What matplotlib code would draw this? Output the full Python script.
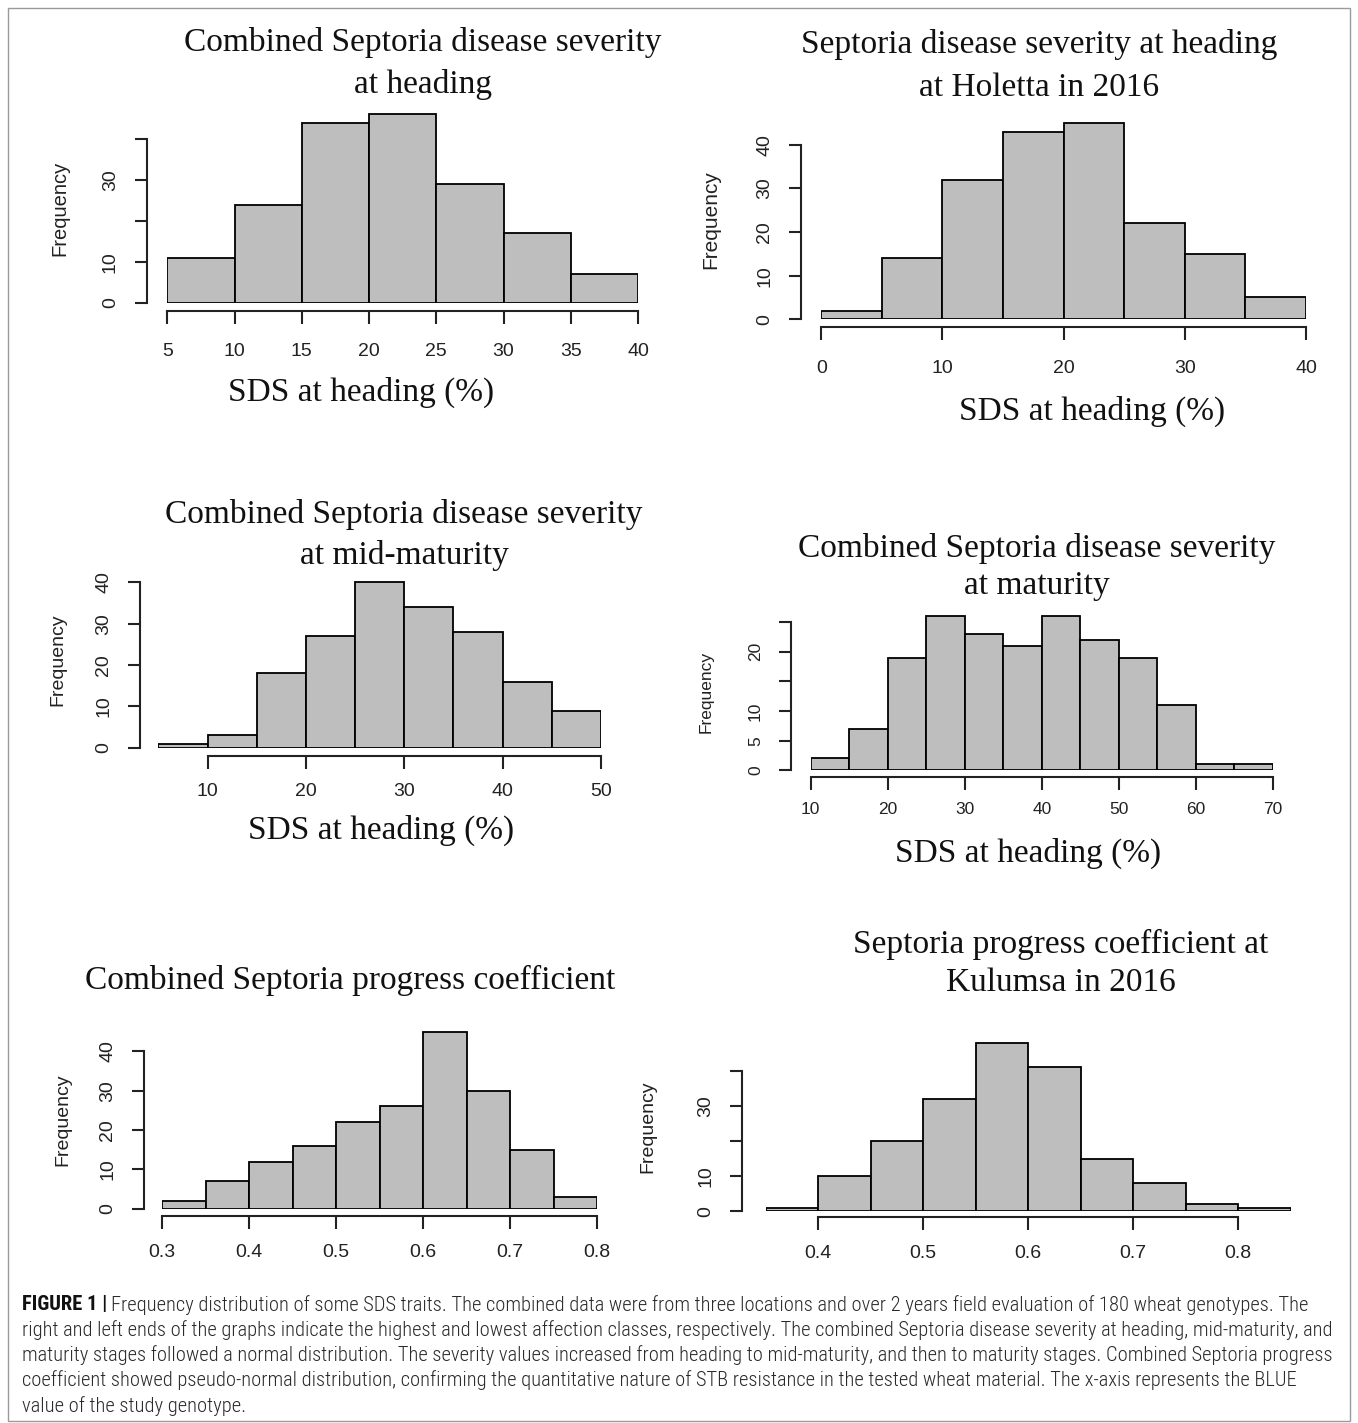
import matplotlib
matplotlib.use("Agg")
import matplotlib.pyplot as plt
import numpy as np
from matplotlib.patches import Rectangle
from matplotlib import font_manager

W, H = 1358, 1423
DPI = 100

# bin edges and counts
heading_edges = [5, 10, 15, 20, 25, 30, 35, 40]
heading_counts = [11, 24, 44, 46, 29, 17, 7]

holetta_edges = [0, 5, 10, 15, 20, 25, 30, 35, 40]
holetta_counts = [2, 14, 32, 43, 45, 22, 15, 5]

midmat_edges = [5, 10, 15, 20, 25, 30, 35, 40, 45, 50]
midmat_counts = [1, 3, 18, 27, 40, 34, 28, 16, 9]

maturity_edges = [10, 15, 20, 25, 30, 35, 40, 45, 50, 55, 60, 65, 70]
maturity_counts = [2, 7, 19, 26, 23, 21, 26, 22, 19, 11, 1, 1]

progress_edges = [0.30, 0.35, 0.40, 0.45, 0.50, 0.55, 0.60, 0.65, 0.70, 0.75, 0.80]
progress_counts = [2, 7, 12, 16, 22, 26, 45, 30, 15, 3]

kulumsa_edges = [0.35, 0.40, 0.45, 0.50, 0.55, 0.60, 0.65, 0.70, 0.75, 0.80, 0.85]
kulumsa_counts = [1, 10, 20, 32, 48, 41, 15, 8, 2, 1]

caption_lines = [
    "Frequency distribution of some SDS traits. The combined data were from three locations and over 2 years field evaluation of 180 wheat genotypes. The",
    "right and left ends of the graphs indicate the highest and lowest affection classes, respectively. The combined Septoria disease severity at heading, mid-maturity, and",
    "maturity stages followed a normal distribution. The severity values increased from heading to mid-maturity, and then to maturity stages. Combined Septoria progress",
    "coefficient showed pseudo-normal distribution, confirming the quantitative nature of STB resistance in the tested wheat material. The x-axis represents the BLUE",
    "value of the study genotype.",
]

SERIF = ["Liberation Serif", "DejaVu Serif"]
SANS = ["Liberation Sans", "DejaVu Sans"]

# caption uses a narrow sans if one is installed
installed = {f.name for f in font_manager.fontManager.ttflist}
NARROW = ["Liberation Sans"]
for cand in ["Liberation Sans Narrow", "Roboto Condensed", "Open Sans Condensed"]:
    if cand in installed:
        NARROW = [cand]
        break

fig = plt.figure(figsize=(W / DPI, H / DPI), dpi=DPI)


def fx(x):
    return x / W


def fy(y):
    return 1 - y / H


def panel(edges, counts, left, right, base, ppu, yaxis_x, xaxis_y,
          yticks, ylabels, xticks, xlabels, tick_fs, freq_pos, freq_fs, xpad=11):
    top = max(counts) + 1
    ax = fig.add_axes([fx(left), fy(base), (right - left) / W, top * ppu / H])
    ax.patch.set_alpha(0)
    ax.bar(edges[:-1], counts, width=np.diff(edges), align="edge",
           color="#BEBEBE", edgecolor="black", linewidth=1.3)
    ax.set_xlim(edges[0], edges[-1])
    ax.set_ylim(0, top)
    for s in ["top", "right"]:
        ax.spines[s].set_visible(False)
    ax.spines["left"].set_position(("outward", (left - yaxis_x) * 72 / DPI))
    ax.spines["bottom"].set_position(("outward", (xaxis_y - base) * 72 / DPI))
    ax.spines["left"].set_bounds(yticks[0], yticks[-1])
    ax.spines["bottom"].set_bounds(xticks[0], xticks[-1])
    for s in ["left", "bottom"]:
        ax.spines[s].set_linewidth(1.5)
        ax.spines[s].set_color("#222222")
    ax.set_yticks(yticks)
    ax.set_yticklabels(ylabels, rotation=90, va="center", family=SANS,
                       fontsize=tick_fs, color="#222222")
    ax.set_xticks(xticks)
    ax.set_xticklabels(xlabels, family=SANS, fontsize=tick_fs, color="#222222")
    ax.tick_params(axis="both", length=9, width=1.5, color="#222222")
    ax.tick_params(axis="y", pad=11)
    ax.tick_params(axis="x", pad=xpad)
    fig.text(fx(freq_pos[0]), fy(freq_pos[1]), "Frequency", rotation=90,
             ha="center", va="center", family=SANS, fontsize=freq_fs,
             color="#222222")
    return ax


def title(lines, cx, ys):
    for line, y in zip(lines, ys):
        fig.text(fx(cx), fy(y), line, ha="center", va="center",
                 family=SERIF, fontsize=24, color="#111111")


# top-left
panel(heading_edges, heading_counts, 167.3, 638, 303, 4.1, 146.7, 310.7,
      [0, 10, 20, 30, 40], ["0", "10", "", "30", ""],
      [5, 10, 15, 20, 25, 30, 35, 40],
      ["5", "10", "15", "20", "25", "30", "35", "40"], 14, (60, 208), 14.5, xpad=14)
title(["Combined Septoria disease severity", "at heading"], 423, [42, 84])
title(["SDS at heading (%)"], 361, [392])

# top-right
panel(holetta_edges, holetta_counts, 821.3, 1306, 319.3, 4.365, 801, 326.7,
      [0, 10, 20, 30, 40], ["0", "10", "20", "30", "40"],
      [0, 10, 20, 30, 40], ["0", "10", "20", "30", "40"], 14, (711, 220), 15, xpad=15)
title(["Septoria disease severity at heading", "at Holetta in 2016"], 1039, [44, 88])
title(["SDS at heading (%)"], 1092, [411])

# middle-left
panel(midmat_edges, midmat_counts, 158.4, 601, 747.7, 4.133, 140, 755.7,
      [0, 10, 20, 30, 40], ["0", "10", "20", "30", "40"],
      [10, 20, 30, 40, 50], ["10", "20", "30", "40", "50"], 14, (58, 660), 14)
title(["Combined Septoria disease severity", "at mid-maturity"], 404, [515, 556])
title(["SDS at heading (%)"], 381, [830])

# middle-right
panel(maturity_edges, maturity_counts, 810.7, 1273, 770.3, 5.93, 790.7, 777.3,
      [0, 5, 10, 15, 20, 25], ["0", "5", "10", "", "20", ""],
      [10, 20, 30, 40, 50, 60, 70],
      ["10", "20", "30", "40", "50", "60", "70"], 12.5, (706, 692), 12.5, xpad=9)
title(["Combined Septoria disease severity", "at maturity"], 1037, [548, 586])
title(["SDS at heading (%)"], 1028, [853])

# bottom-left
panel(progress_edges, progress_counts, 162.3, 597, 1208.7, 3.933, 144, 1216,
      [0, 10, 20, 30, 40], ["0", "10", "20", "30", "40"],
      [0.3, 0.4, 0.5, 0.6, 0.7, 0.8],
      ["0.3", "0.4", "0.5", "0.6", "0.7", "0.8"], 14, (63, 1120), 14)
title(["Combined Septoria progress coefficient"], 350, [980])

# bottom-right
panel(kulumsa_edges, kulumsa_counts, 765.5, 1290.5, 1211.3, 3.51, 742, 1217.3,
      [0, 10, 20, 30, 40], ["0", "10", "", "30", ""],
      [0.4, 0.5, 0.6, 0.7, 0.8],
      ["0.4", "0.5", "0.6", "0.7", "0.8"], 14, (648, 1127), 14)
title(["Septoria progress coefficient at", "Kulumsa in 2016"], 1061, [944, 983])

# caption: font size chosen so the second line spans the same width as in the figure
renderer = fig.canvas.get_renderer()
probe = fig.text(0, 0, caption_lines[1], family=NARROW, fontsize=14, fontweight="light")
cap_fs = 14 * (1337 - 22) / probe.get_window_extent(renderer).width
probe.remove()

cap_y = [1305, 1330, 1355, 1380, 1406]
head = fig.text(fx(22), fy(cap_y[0]), "FIGURE 1 |", ha="left", va="center",
                family=NARROW, fontsize=cap_fs, fontweight="bold", color="#111111")
head_end = head.get_window_extent(renderer).x1
for i, (line, y) in enumerate(zip(caption_lines, cap_y)):
    x0 = (head_end + 4) if i == 0 else 22
    fig.text(fx(x0), fy(y), line, ha="left", va="center", fontweight="light",
             family=NARROW, fontsize=cap_fs, color="#2a2a2a")

# frame around the figure
fig.patches.append(Rectangle((fx(8), fy(1421)), (1350 - 8) / W, (1421 - 8) / H,
                             transform=fig.transFigure, fill=False,
                             edgecolor="#9a9a9a", linewidth=1))

fig.savefig("out.png", dpi=DPI)
